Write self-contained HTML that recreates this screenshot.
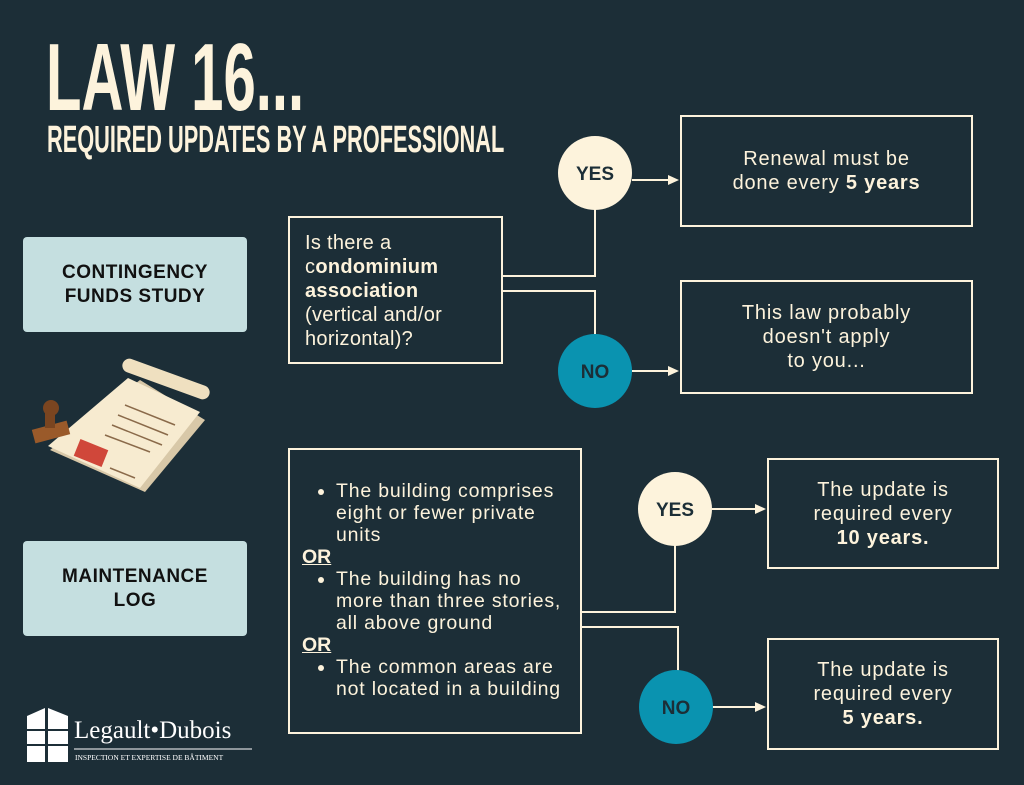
<!DOCTYPE html>
<html><head><style>
body{margin:0;width:1024px;height:785px;background:#1c2e37;position:relative;overflow:hidden;font-family:"Liberation Sans",sans-serif;color:#fdf3dc}
.a{position:absolute}
.t1{left:46px;top:23px;font-size:96px;font-weight:bold;transform:scaleX(.605);transform-origin:0 0;white-space:nowrap;line-height:110px}
.t2{left:47px;top:119px;font-size:38px;font-weight:bold;transform:scaleX(.573);transform-origin:0 0;white-space:nowrap;line-height:42px}
.lb{background:#c5dfe0;border-radius:4px;color:#111;font-weight:bold;font-size:19px;letter-spacing:.5px;text-align:center;display:flex;align-items:center;justify-content:center;line-height:24px}
.bx{border:2px solid #fdf3dc;box-sizing:border-box;font-size:20px;letter-spacing:.8px;line-height:24px}
.r{display:flex;align-items:center;justify-content:center;text-align:center}
ul{margin:0;padding-left:46px}
li{margin:0}
.or{font-weight:bold;text-decoration:underline;padding-left:12px;letter-spacing:0}
</style></head><body>
<div class="a t1">LAW 16...</div>
<div class="a t2">REQUIRED UPDATES BY A PROFESSIONAL</div>
<div class="a lb" style="left:23px;top:237px;width:224px;height:95px"><div>CONTINGENCY<br>FUNDS STUDY</div></div>
<div class="a lb" style="left:23px;top:541px;width:224px;height:95px"><div>MAINTENANCE<br>LOG</div></div>
<svg class="a" style="left:0;top:0" width="1024" height="785">
<g stroke="#fdf3dc" stroke-width="2" fill="none">
<polyline points="502,276 595,276 595,205"/>
<polyline points="502,291 595,291 595,340"/>
<polyline points="581,612 675,612 675,540"/>
<polyline points="581,627 678,627 678,676"/>
<line x1="632" y1="180" x2="670" y2="180"/>
<line x1="632" y1="371" x2="670" y2="371"/>
<line x1="712" y1="509" x2="757" y2="509"/>
<line x1="712" y1="707" x2="757" y2="707"/>
</g>
<g fill="#fdf3dc">
<polygon points="679,180 668,175 668,185"/>
<polygon points="679,371 668,366 668,376"/>
<polygon points="766,509 755,504 755,514"/>
<polygon points="766,707 755,702 755,712"/>
</g>
<circle cx="595" cy="173" r="37" fill="#fdf3dc"/>
<circle cx="595" cy="371" r="37" fill="#0a93b0"/>
<circle cx="675" cy="509" r="37" fill="#fdf3dc"/>
<circle cx="676" cy="707" r="37" fill="#0a93b0"/>
<g font-family="Liberation Sans" font-weight="bold" font-size="19" text-anchor="middle">
<text x="595" y="180" fill="#1c2e37">YES</text>
<text x="595" y="378" fill="#1c2e37">NO</text>
<text x="675" y="516" fill="#1c2e37">YES</text>
<text x="676" y="714" fill="#1c2e37">NO</text>
</g>
<g>
<polygon points="50,450 140,380 205,420 145,492" fill="#d8c8a8"/>
<polygon points="48,446 128,378 200,412 140,488" fill="#f7ebd0"/>
<rect x="120" y="372" width="92" height="14" rx="7" fill="#efe0c0" transform="rotate(20 166 379)"/>
<rect x="76" y="444" width="30" height="18" fill="#d0473a" transform="rotate(22 91 453)"/>
<g stroke="#8a6a4a" stroke-width="1.5">
<line x1="125" y1="405" x2="175" y2="425"/><line x1="118" y1="415" x2="168" y2="435"/>
<line x1="112" y1="425" x2="162" y2="445"/><line x1="105" y1="435" x2="150" y2="452"/>
<line x1="110" y1="468" x2="135" y2="478"/>
</g>
<rect x="33" y="425" width="36" height="14" fill="#9a5a2a" transform="rotate(-15 51 432)"/>
<rect x="45" y="412" width="10" height="16" fill="#7a4520"/>
<circle cx="51" cy="408" r="8" fill="#7a4520"/>
</g>
<g fill="#fff">
<polygon points="27,716 45,708 45,762 27,762"/>
<polygon points="48,708 68,716 68,762 48,762"/>
</g>
<g stroke="#1c2e37" stroke-width="2"><line x1="27" y1="730" x2="68" y2="730"/><line x1="27" y1="745" x2="68" y2="745"/></g>
<line x1="74" y1="749" x2="252" y2="749" stroke="#fff" stroke-width="1"/>
<text x="74" y="738" fill="#fff" font-family="Liberation Serif" font-size="25">Legault•Dubois</text>
<text x="75" y="760" fill="#fff" font-family="Liberation Serif" font-size="7.5">INSPECTION ET EXPERTISE DE BÂTIMENT</text>
</svg>
<div class="a bx" style="left:288px;top:216px;width:215px;height:148px;padding:13px 0 0 15px;letter-spacing:.3px">Is there a<br>c<b>ondominium association</b><br>(vertical and/or horizontal)?</div>
<div class="a bx r" style="left:680px;top:115px;width:293px;height:112px"><div>Renewal must be<br>done every <b>5 years</b></div></div>
<div class="a bx r" style="left:680px;top:280px;width:293px;height:114px"><div>This law probably<br>doesn't apply<br>to you...</div></div>
<div class="a bx" style="left:288px;top:448px;width:294px;height:286px;padding:30px 12px 0 0;font-size:19.5px;line-height:22px">
<ul><li>The building comprises eight or fewer private units</li></ul>
<div class="or">OR</div>
<ul><li>The building has no more than three stories, all above ground</li></ul>
<div class="or">OR</div>
<ul><li>The common areas are not located in a building</li></ul>
</div>
<div class="a bx r" style="left:767px;top:458px;width:232px;height:111px"><div>The update is<br>required every<br><b>10 years.</b></div></div>
<div class="a bx r" style="left:767px;top:638px;width:232px;height:112px"><div>The update is<br>required every<br><b>5 years.</b></div></div>
</body></html>
